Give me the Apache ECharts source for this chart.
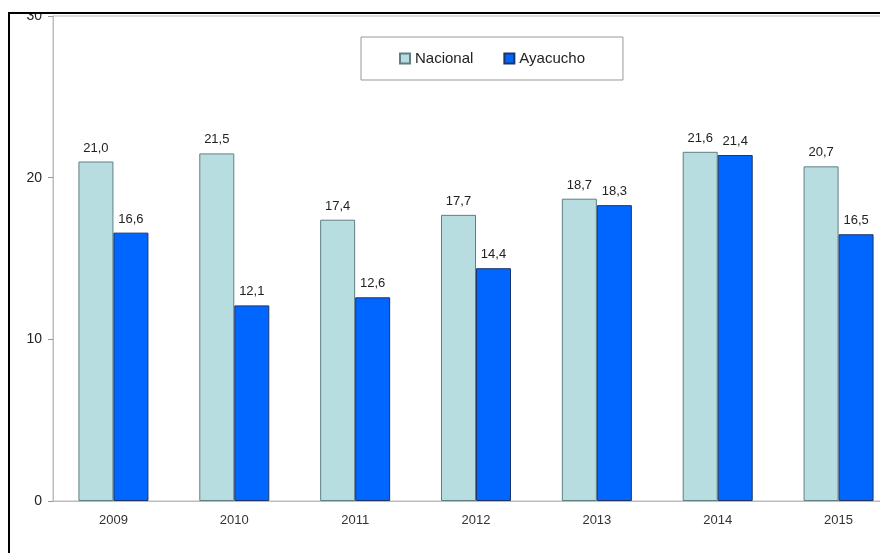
<!DOCTYPE html>
<html>
<head>
<meta charset="utf-8">
<script src="https://cdn.jsdelivr.net/npm/echarts@6/dist/echarts.min.js"></script>
<style>
  html, body { margin: 0; padding: 0; background: #fff; }
  #chart { width: 880px; height: 553px; }
</style>
</head>
<body>
<div id="chart"></div>
<script>
// Years on the x axis
const years = ['2009', '2010', '2011', '2012', '2013', '2014', '2015'];
// Values (%)
const nacional = [21.0, 21.5, 17.4, 17.7, 18.7, 21.6, 20.7];
const ayacucho = [16.6, 12.1, 12.6, 14.4, 18.3, 21.4, 16.5];
const yTicks = [0, 10, 20, 30];

const font = '"Liberation Sans Narrow", "Liberation Sans", Arial, sans-serif';
const chart = echarts.init(document.getElementById('chart'));

const labelStyle = {
  show: true,
  position: 'top',
  distance: 7,
  color: '#222',
  fontSize: 13,
  fontFamily: font,
  formatter: p => p.value.toFixed(1).replace('.', ',')
};

chart.setOption({
  backgroundColor: '#fff',
  animation: false,
  // plot area runs past the right edge of the picture (cropped original)
  grid: {
    left: 53, top: 16, width: 846, bottom: 52,
    outerBoundsMode: 'none',
    containLabel: false,
    show: true, borderColor: '#bdbdbd', borderWidth: 1
  },
  legend: {
    left: 361, top: 37,
    padding: [14, 38],
    itemGap: 30,
    itemWidth: 10, itemHeight: 10,
    borderColor: '#999', borderWidth: 1,
    icon: 'rect',
    textStyle: { color: '#222', fontSize: 15, fontFamily: font },
    data: ['Nacional', 'Ayacucho']
  },
  xAxis: {
    type: 'category',
    data: years,
    axisLine: { lineStyle: { color: '#bdbdbd' } },
    axisTick: { length: 5, lineStyle: { color: '#999' } },
    axisLabel: { color: '#333', fontSize: 13, fontFamily: 'Liberation Sans, Arial, sans-serif', margin: 13 }
  },
  yAxis: {
    type: 'value',
    min: yTicks[0], max: yTicks[yTicks.length - 1], interval: 10,
    axisLine: { show: true, lineStyle: { color: '#bdbdbd' } },
    axisTick: { show: true, length: 5, lineStyle: { color: '#999' } },
    splitLine: { show: false },
    axisLabel: { color: '#222', fontSize: 14, fontFamily: font, margin: 11 }
  },
  series: [
    {
      name: 'Nacional',
      type: 'bar',
      data: nacional,
      barWidth: 35,
      barGap: '0%',
      itemStyle: { color: '#b8dde1', borderColor: '#5f7f83', borderWidth: 1 },
      label: labelStyle
    },
    {
      name: 'Ayacucho',
      type: 'bar',
      data: ayacucho,
      barWidth: 35,
      itemStyle: { color: '#0066ff', borderColor: '#1c3566', borderWidth: 1 },
      label: labelStyle
    }
  ],
  graphic: [
    // crop above the frame and the frame itself
    { type: 'rect', z: 100, shape: { x: 0, y: 0, width: 880, height: 12 }, style: { fill: '#fff' } },
    { type: 'line', z: 101, shape: { x1: 8, y1: 13, x2: 880, y2: 13 }, style: { stroke: '#000', lineWidth: 2 } },
    { type: 'line', z: 101, shape: { x1: 9, y1: 12, x2: 9, y2: 553 }, style: { stroke: '#000', lineWidth: 2 } }
  ]
});
</script>
</body>
</html>
